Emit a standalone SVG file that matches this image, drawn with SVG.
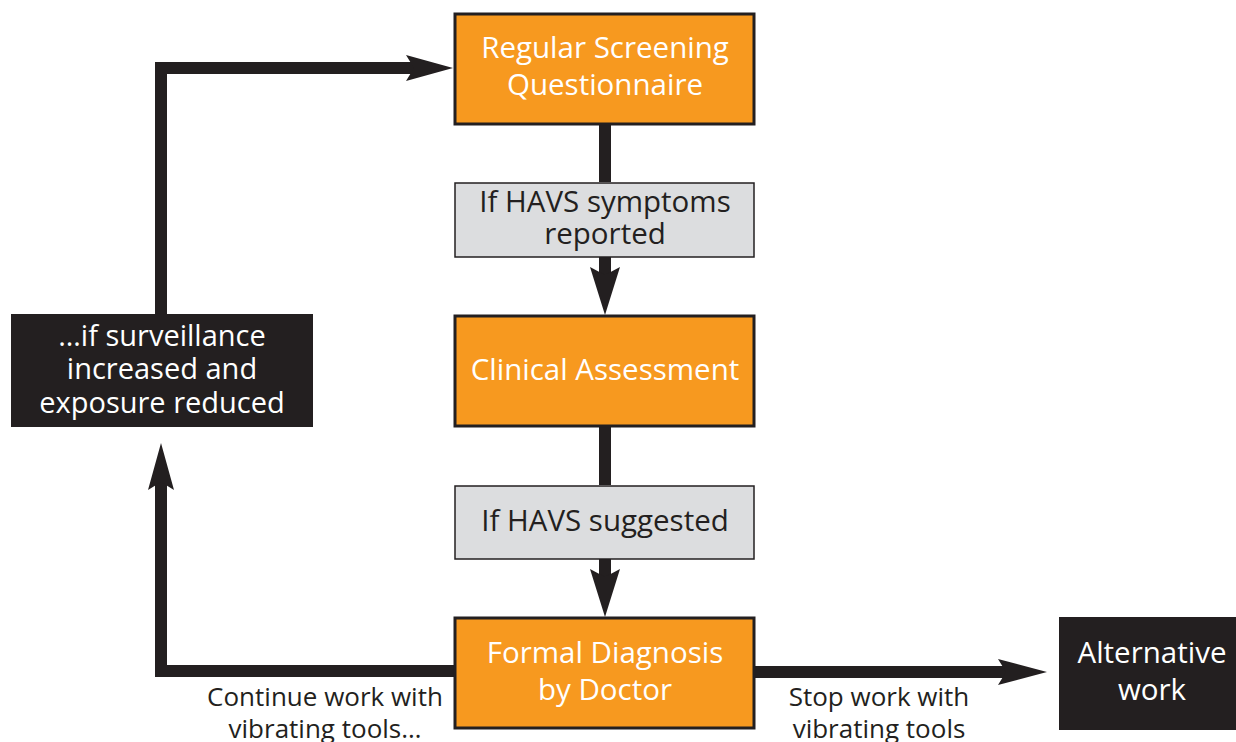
<svg xmlns="http://www.w3.org/2000/svg" width="1236" height="742" viewBox="0 0 1236 742">
<style>
.orange{fill:#F7991F;stroke:#231F20;stroke-width:3}
.gray{fill:#DCDDDF;stroke:#231F20;stroke-width:1.5}
.black{fill:#231F20}
.line{fill:none;stroke:#231F20;stroke-width:12}
.head{fill:#231F20}
text{font-family:"Open Sans","Liberation Sans",sans-serif;font-size:29.5px;text-anchor:middle}
.w{fill:#ffffff}
.d{fill:#231F20}
.lbl{font-size:26px}
.bb{font-size:29px}
</style>
<rect width="1236" height="742" fill="#ffffff"/>
<g id="connectors">
<line class="line" x1="605" y1="124" x2="605" y2="182"/>
<line class="line" x1="605" y1="257" x2="605" y2="275"/>
<polygon class="head" points="590,267 605,275 620,267 605,315"/>
<line class="line" x1="605" y1="427" x2="605" y2="485"/>
<line class="line" x1="605" y1="559" x2="605" y2="577"/>
<polygon class="head" points="590,569 605,577 620,569 605,617"/>
<polyline class="line" points="454,671 161,671 161,482"/>
<polygon class="head" points="148,490 161,482 174,490 161,443"/>
<polyline class="line" points="161,314 161,68 414,68"/>
<polygon class="head" points="406,55 414,68 406,81 453,68"/>
<line class="line" x1="755" y1="672" x2="1006" y2="672"/>
<polygon class="head" points="998,659 1006,672 998,685 1047,672"/>
</g>
<g id="screening">
<rect class="orange" x="455" y="14" width="299" height="110"/>
<text class="w" x="605" y="58">Regular Screening</text>
<text class="w" x="605" y="95">Questionnaire</text>
</g>
<g id="cond1">
<rect class="gray" x="455" y="183" width="299" height="74"/>
<text class="d" x="605" y="212">If HAVS symptoms</text>
<text class="d" x="605" y="244">reported</text>
</g>
<g id="clinical">
<rect class="orange" x="455" y="316" width="299" height="110"/>
<text class="w" x="605" y="380">Clinical Assessment</text>
</g>
<g id="cond2">
<rect class="gray" x="455" y="486" width="299" height="73"/>
<text class="d" x="605" y="531">If HAVS suggested</text>
</g>
<g id="diagnosis">
<rect class="orange" x="455" y="618" width="299" height="110"/>
<text class="w" x="605" y="663">Formal Diagnosis</text>
<text class="w" x="605" y="700">by Doctor</text>
</g>
<g id="surveillance">
<rect class="black" x="11" y="314" width="302" height="113"/>
<text class="w bb" x="162" y="346">…if surveillance</text>
<text class="w bb" x="162" y="379">increased and</text>
<text class="w bb" x="162" y="413">exposure reduced</text>
</g>
<g id="alternative">
<rect class="black" x="1059" y="617" width="177" height="113"/>
<text class="w" x="1152" y="663">Alternative</text>
<text class="w" x="1152" y="700">work</text>
</g>
<g id="labels">
<text class="d lbl" x="325" y="706">Continue work with</text>
<text class="d lbl" x="325" y="738">vibrating tools…</text>
<text class="d lbl" x="879" y="706">Stop work with</text>
<text class="d lbl" x="879" y="738">vibrating tools</text>
</g>
</svg>
